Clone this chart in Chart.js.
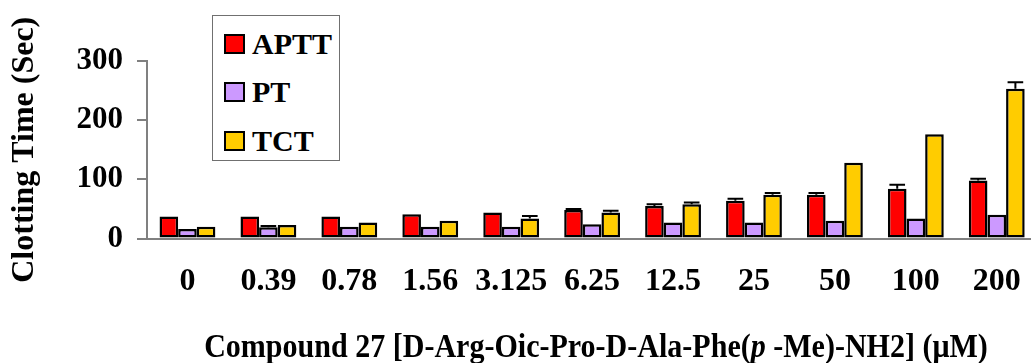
<!DOCTYPE html>
<html>
<head>
<meta charset="utf-8">
<script src="https://cdn.jsdelivr.net/npm/chart.js@4/dist/chart.umd.min.js"></script>
<style>
  html, body { margin: 0; padding: 0; background: #fff; }
  body { width: 1031px; height: 363px; overflow: hidden; position: relative; }
  #wrap { position: absolute; left: 0; top: 0; width: 1045px; height: 363px; }
  #legenda {
    position: absolute; left: 212px; top: 15px; width: 126px; height: 144px;
    border: 1.5px solid #707070; background: #fff;
    font-family: "Liberation Serif", serif; font-weight: bold; font-size: 30px;
  }
  #legenda .wpis { position: absolute; left: 11px; height: 21px; display: flex; align-items: center; }
  #legenda .kolor { width: 17px; height: 16px; border: 2px solid #000; margin-right: 7px; }
  #tytulX {
    position: absolute; left: 596px; top: 328px; white-space: nowrap;
    font-family: "Liberation Serif", serif; font-weight: bold; font-size: 33px;
    transform: translateX(-50%) scaleX(0.91); transform-origin: center;
  }
</style>
</head>
<body>
<div id="wrap"><canvas id="wykres" width="1045" height="363"></canvas></div>
<div id="legenda"></div>
<div id="tytulX">Compound 27 [D-Arg-Oic-Pro-D-Ala-Phe(<i>p</i> -Me)-NH2] (μM)</div>
<script>
const stezenia = ['0', '0.39', '0.78', '1.56', '3.125', '6.25', '12.5', '25', '50', '100', '200'];
const aptt = [37, 37, 37, 41, 44, 48, 55, 64, 74, 84, 98];
const pt = [16, 19, 20, 20, 20, 24, 27, 27, 30, 34, 40];
const tct = [20, 23, 27, 30, 34, 44, 58, 74, 128, 176, 253];
const apttBlad = [0, 0, 0, 0, 0, 2, 3, 3, 3, 7, 3];
const ptBlad = [0, 2, 0, 0, 0, 0, 0, 0, 0, 0, 0];
const tctBlad = [0, 0, 0, 0, 4, 3, 3, 3, 0, 0, 11];
const osY = [0, 100, 200, 300];

const czcionka = '"Liberation Serif", "Times New Roman", serif';

// slupki bledow (tylko w gore)
const bledy = {
  id: 'bledy',
  afterDatasetsDraw(chart) {
    const ctx = chart.ctx;
    const y = chart.scales.y;
    ctx.save();
    ctx.strokeStyle = '#000';
    ctx.lineWidth = 2;
    chart.data.datasets.forEach((ds, i) => {
      const meta = chart.getDatasetMeta(i);
      meta.data.forEach((bar, j) => {
        const b = ds.bledy[j];
        if (!b) return;
        const gora = y.getPixelForValue(ds.data[j] + b);
        const pol = bar.width * 0.42;
        ctx.beginPath();
        ctx.moveTo(bar.x, bar.y);
        ctx.lineTo(bar.x, gora);
        ctx.moveTo(bar.x - pol, gora);
        ctx.lineTo(bar.x + pol, gora);
        ctx.stroke();
      });
    });
    ctx.restore();
  }
};

const ctx = document.getElementById('wykres').getContext('2d');
const wykres = new Chart(ctx, {
  type: 'bar',
  data: {
    labels: stezenia,
    datasets: [
      { label: 'APTT', data: aptt, bledy: apttBlad, backgroundColor: '#FF0000' },
      { label: 'PT', data: pt, bledy: ptBlad, backgroundColor: '#CC99FF' },
      { label: 'TCT', data: tct, bledy: tctBlad, backgroundColor: '#FFCC00' }
    ].map(d => Object.assign(d, {
      borderColor: '#000', borderWidth: 2.5, borderSkipped: false,
      categoryPercentage: 0.69, barPercentage: 1.0
    }))
  },
  options: {
    responsive: false,
    animation: false,
    layout: { padding: { top: 61, right: 5, left: 0, bottom: 0 } },
    plugins: { legend: { display: false }, tooltip: { enabled: false } },
    scales: {
      x: {
        grid: { drawOnChartArea: false, drawTicks: false },
        border: { color: '#808080', width: 2 },
        ticks: { color: '#000', padding: 24, font: { family: czcionka, size: 32, weight: 'bold' } },
        afterFit: s => { s.height = 124.5; }
      },
      y: {
        min: 0, max: 300,
        afterBuildTicks: s => { s.ticks = osY.map(v => ({ value: v })); },
        grid: { drawOnChartArea: false, drawTicks: true, tickLength: 10, color: '#808080', lineWidth: 2 },
        border: { color: '#808080', width: 2 },
        ticks: { color: '#000', padding: 14, font: { family: czcionka, size: 31, weight: 'bold' } },
        title: { display: true, text: 'Clotting Time (Sec)', color: '#000', padding: { top: 6, bottom: 0 },
                 font: { family: czcionka, size: 32, weight: 'bold' } },
        afterFit: s => { s.width = 147; }
      }
    }
  },
  plugins: [bledy]
});

// legenda
const legenda = document.getElementById('legenda');
wykres.data.datasets.forEach((ds, i) => {
  const w = document.createElement('div');
  w.className = 'wpis';
  w.style.top = (17 + i * 48.5) + 'px';
  w.innerHTML = `<span class="kolor" style="background:${ds.backgroundColor}"></span><span>${ds.label}</span>`;
  legenda.appendChild(w);
});
</script>
</body>
</html>
